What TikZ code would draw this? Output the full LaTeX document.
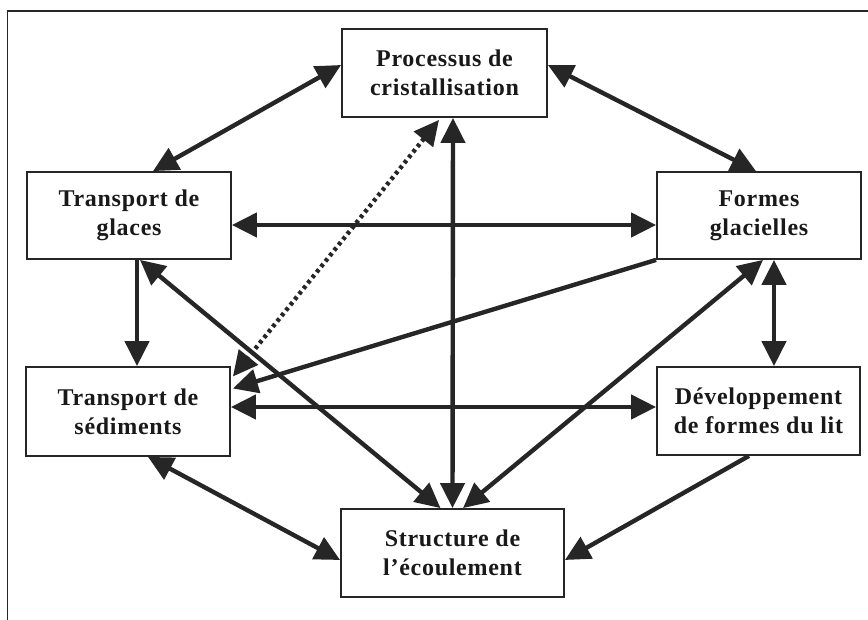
\documentclass[tikz,border=0pt]{standalone}
\usepackage{fontspec}
\setmainfont[LetterSpace=3]{Liberation Serif}
\usetikzlibrary{arrows.meta}
\tikzset{
  box/.style={draw=black!85, line width=1.8pt, align=center, inner sep=0pt,
    font=\fontsize{24}{29}\selectfont\bfseries, text=black!90},
  link/.style={draw=black!85, line width=4.4pt,
    -{Triangle[length=25pt,width=24pt]}},
  dlink/.style={link, {Triangle[length=25pt,width=24pt]}-{Triangle[length=25pt,width=24pt]}},
  dotlink/.style={dlink, dash pattern=on 3.5pt off 3.5pt},
}
\begin{document}
\begin{tikzpicture}[x=1pt,y=-1pt]
\useasboundingbox (0,0) rectangle (868,620);
\coordinate (ftop) at (868,11);
\coordinate (fcorner) at (7.5,11);
\coordinate (fbot) at (7.5,620);
\draw[black!85, line width=1.8pt] (ftop) -- (fcorner) -- (fbot);

\node[box, minimum width=205pt, minimum height=88pt] (proc) at (444.5,73) {Processus de\\cristallisation};
\node[box, minimum width=204pt, minimum height=87pt] (tg) at (129,215.5) {Transport de\\glaces};
\node[box, minimum width=204pt, minimum height=87pt] (fg) at (759,215.5) {Formes\\glacielles};
\node[box, minimum width=204pt, minimum height=89pt] (ts) at (128,411.5) {Transport de\\sédiments};
\node[box, minimum width=203pt, minimum height=88pt] (dev) at (758.5,411) {Développement\\de formes du lit};
\node[box, minimum width=223pt, minimum height=88pt] (st) at (452.5,553) {Structure de\\l’écoulement};

\draw[dlink] ([yshift=8pt]proc.west) -- ([xshift=24pt]tg.north);
\draw[dlink] ([yshift=8pt]proc.east) -- ([xshift=-3pt]fg.north);
\draw[dlink] ([yshift=-9.5pt]tg.east) -- ([yshift=-9.5pt]fg.west);
\draw[dlink] ([xshift=8.5pt]proc.south) -- (st.north);
\draw[dotlink] ([xshift=-5.5pt,yshift=-2pt]proc.south) -- ([xshift=2pt,yshift=35pt]ts.east);
\draw[link] ([xshift=8pt]tg.south) -- ([xshift=9pt]ts.north);
\draw[dlink] ([xshift=11pt]tg.south) -- ([xshift=-12pt]st.north);
\draw[dlink] ([xshift=15pt]fg.south) -- ([xshift=15.5pt]dev.north);
\draw[dlink] ([xshift=4pt]fg.south) -- ([xshift=10.5pt]st.north);
\draw[dlink] ([xshift=20pt]ts.south) -- ([yshift=-7pt]st.west);
\draw[link] ([xshift=-9.5pt]dev.south) -- ([yshift=-7pt]st.east);
\draw[link] (fg.south west) -- ([xshift=2pt,yshift=23pt]ts.east);
\draw[dlink] ([yshift=4.5pt]ts.east) -- ([yshift=4pt]dev.west);
\end{tikzpicture}
\end{document}
